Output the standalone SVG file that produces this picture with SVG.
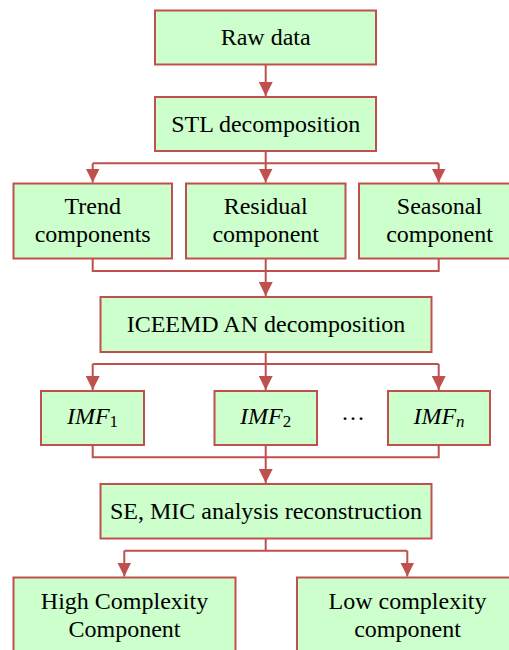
<svg xmlns="http://www.w3.org/2000/svg" width="509" height="650" viewBox="0 0 509 650">
<style>
.box{fill:#CCFFCC;stroke:#C0504D;stroke-width:2}
.t{font-family:"Liberation Serif","Times New Roman",serif;font-size:24px;fill:#000;text-anchor:middle}
.i{font-style:italic}
.c{fill:none;stroke:#C0504D;stroke-width:2}
</style>
<defs>
<marker id="ah" markerUnits="userSpaceOnUse" markerWidth="14" markerHeight="14" refX="14" refY="7" orient="auto">
<path d="M0,0 L14,7 L0,14 z" fill="#C0504D"/>
</marker>
</defs>
<rect width="509" height="650" fill="#fff"/>
<g id="connectors">
<path class="c" d="M265.7,64 V96" marker-end="url(#ah)"/>
<path class="c" d="M265.7,151 V163.3 M92.7,163.3 H438.7"/>
<path class="c" d="M92.7,163.3 V182.5" marker-end="url(#ah)"/>
<path class="c" d="M265.7,163.3 V182.5" marker-end="url(#ah)"/>
<path class="c" d="M438.7,163.3 V182.5" marker-end="url(#ah)"/>
<path class="c" d="M92.7,258.5 V271 H438.7 V258.5"/>
<path class="c" d="M265.7,258.5 V296" marker-end="url(#ah)"/>
<path class="c" d="M265.7,352 V364 M92.7,364 H438.7"/>
<path class="c" d="M92.7,364 V390" marker-end="url(#ah)"/>
<path class="c" d="M265.7,364 V390" marker-end="url(#ah)"/>
<path class="c" d="M438.7,364 V390" marker-end="url(#ah)"/>
<path class="c" d="M92.7,445 V457.3 H438.7 V445"/>
<path class="c" d="M265.7,445 V483" marker-end="url(#ah)"/>
<path class="c" d="M265.7,538.5 V550.7 M124.3,550.7 H407.3"/>
<path class="c" d="M124.3,550.7 V576.5" marker-end="url(#ah)"/>
<path class="c" d="M407.3,550.7 V576.5" marker-end="url(#ah)"/>
</g>
<g id="raw"><rect class="box" x="155" y="10.5" width="221" height="54"/><text class="t" x="265.7" y="45">Raw data</text></g>
<g id="stl"><rect class="box" x="155" y="97" width="221" height="54"/><text class="t" x="265.7" y="132">STL decomposition</text></g>
<g id="trend"><rect class="box" x="13.5" y="183.5" width="158.5" height="75"/><text class="t" x="92.7" y="214">Trend</text><text class="t" x="92.7" y="242">components</text></g>
<g id="residual"><rect class="box" x="186" y="183.5" width="159.5" height="75"/><text class="t" x="265.7" y="214">Residual</text><text class="t" x="265.7" y="242">component</text></g>
<g id="seasonal"><rect class="box" x="359" y="183.5" width="159.5" height="75"/><text class="t" x="439.5" y="214">Seasonal</text><text class="t" x="439.5" y="242">component</text></g>
<g id="iceemdan"><rect class="box" x="100.5" y="297" width="331" height="55"/><text class="t" x="266" y="332">ICEEMD AN decomposition</text></g>
<g id="imf1"><rect class="box" x="41" y="391" width="103" height="54"/><text class="t" x="92.5" y="424"><tspan class="i">IMF</tspan><tspan font-size="17" dy="3">1</tspan></text></g>
<g id="imf2"><rect class="box" x="214.5" y="391" width="102.5" height="54"/><text class="t" x="265.7" y="424"><tspan class="i">IMF</tspan><tspan font-size="17" dy="3">2</tspan></text></g>
<g id="dots"><text class="t" x="353" y="426">···</text></g>
<g id="imfn"><rect class="box" x="388" y="391" width="102" height="54"/><text class="t" x="439" y="424"><tspan class="i">IMF</tspan><tspan class="i" font-size="17" dy="3">n</tspan></text></g>
<g id="se"><rect class="box" x="100.5" y="484" width="331" height="54.5"/><text class="t" x="266" y="519">SE, MIC analysis reconstruction</text></g>
<g id="high"><rect class="box" x="13.5" y="577.5" width="222" height="90"/><text class="t" x="124.5" y="609">High Complexity</text><text class="t" x="124.5" y="637">Component</text></g>
<g id="low"><rect class="box" x="297" y="577.5" width="221" height="90"/><text class="t" x="407.5" y="609">Low complexity</text><text class="t" x="407.5" y="637">component</text></g>
</svg>
